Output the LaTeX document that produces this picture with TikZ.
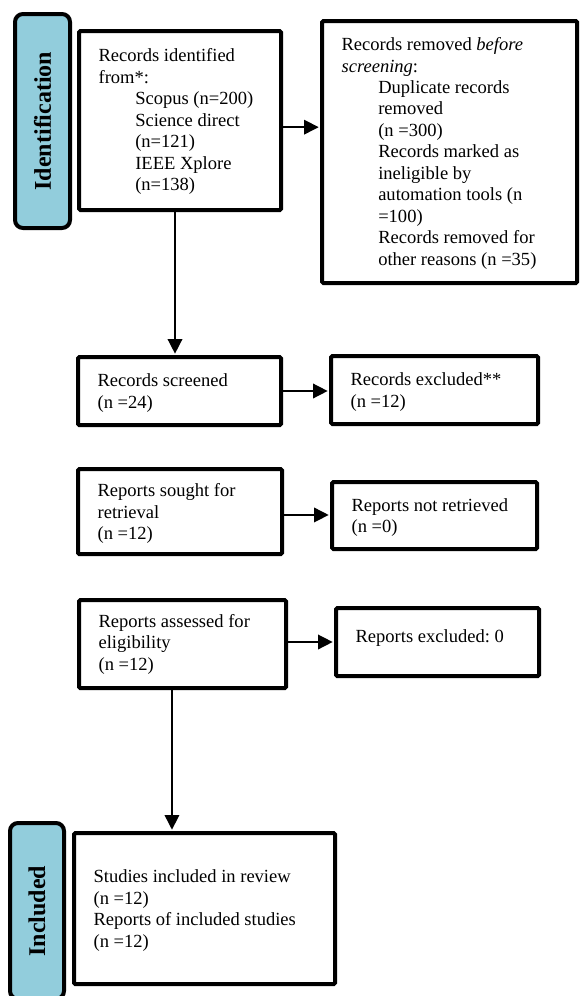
\documentclass[tikz,border=0pt]{standalone}
\usepackage{fontspec}
\setmainfont{Liberation Serif}
\usetikzlibrary{arrows.meta,calc}
\definecolor{labelblue}{RGB}{146,205,220}
\newcommand{\ind}{\hspace*{27.5pt}}
\frenchspacing
\begin{document}
\begin{tikzpicture}[x=0.75pt,y=-0.75pt,
  box/.style={draw=black,line width=3pt,rectangle,rounded corners=1pt,inner sep=0pt,fill=white},
  stage/.style={draw=black,line width=3pt,rectangle,rounded corners=6pt,fill=labelblue,inner sep=0pt},
  stagetext/.style={rotate=90,font=\fontsize{18pt}{21pt}\selectfont\bfseries,inner sep=0pt},
  txt/.style={align=left,inner sep=0pt,font=\fontsize{13.9pt}{16.1pt}\selectfont,anchor=west},
  arr/.style={line width=1.1pt,-{Triangle[length=11pt,width=11pt]},shorten >=1pt}]
\useasboundingbox (0,0) rectangle (581,996);

% stage labels
\node[stage,minimum width=41.25pt,minimum height=160.5pt] (lid) at (42.5,121) {};
\node[stagetext] (lidt) at (lid.center) {Identification};
\node[stage,minimum width=40.5pt,minimum height=132pt] (linc) at (37,911) {};
\node[stagetext] (linct) at (linc.center) {Included};

% boxes
\node[box,minimum width=151.5pt,minimum height=134.25pt] (idb) at (180,120.5) {};
\node[box,minimum width=191.25pt,minimum height=196.5pt] (rem) at (449.5,152) {};
\node[box,minimum width=152.25pt,minimum height=51pt] (scr) at (179.5,391) {};
\node[box,minimum width=155.25pt,minimum height=51pt] (exc) at (434.5,390) {};
\node[box,minimum width=153pt,minimum height=63.75pt] (sou) at (180,511.5) {};
\node[box,minimum width=153.75pt,minimum height=50.25pt] (nrt) at (434.5,515.5) {};
\node[box,minimum width=155.25pt,minimum height=66pt] (ass) at (182.5,644) {};
\node[box,minimum width=152.25pt,minimum height=51pt] (rex) at (437.5,642) {};
\node[box,minimum width=195.75pt,minimum height=113.25pt] (stu) at (204.5,908.5) {};

% texts
\node[txt] (idbt) at ([xshift=16pt,yshift=-1pt]idb.west) {Records identified\\from*:\\\ind Scopus (n=200)\\\ind Science direct\\\ind (n=121)\\\ind IEEE Xplore\\\ind (n=138)};
\node[txt] (remt) at ([xshift=16pt,yshift=-1pt]rem.west) {Records removed \textit{before}\\\textit{screening}:\\\ind Duplicate records\\\ind removed\\\ind (n =300)\\\ind Records marked as\\\ind ineligible by\\\ind automation tools (n\\\ind =100)\\\ind Records removed for\\\ind other reasons (n =35)};
\node[txt] (scrt) at ([xshift=16pt,yshift=-1.5pt]scr.west) {Records screened\\(n =24)};
\node[txt] (exct) at ([xshift=16pt,yshift=-1.5pt]exc.west) {Records excluded**\\(n =12)};
\node[txt] (sout) at ([xshift=16pt,yshift=-1.5pt]sou.west) {Reports sought for\\retrieval\\(n =12)};
\node[txt] (nrtt) at ([xshift=16pt,yshift=-1.5pt]nrt.west) {Reports not retrieved\\(n =0)};
\node[txt] (asst) at ([xshift=16pt]ass.west) {Reports assessed for\\eligibility\\(n =12)};
\node[txt,anchor=base west] (rext) at ([xshift=16pt]rex.west) {Reports excluded: 0};
\node[txt] (stut) at ([xshift=16pt,yshift=-1.5pt]stu.west) {Studies included in review\\(n =12)\\Reports of included studies\\(n =12)};

% connectors
\coordinate (a1) at ([yshift=-5pt]idb.east);
\draw[arr] (a1) -- (a1 -| rem.west);
\coordinate (v1) at ([xshift=-3.75pt]idb.south);
\draw[arr] (v1) -- (v1 |- scr.north);
\draw[arr] (scr.east) -- (scr.east -| exc.west);
\coordinate (a3) at ([yshift=-2.6pt]sou.east);
\draw[arr] (a3) -- (a3 -| nrt.west);
\coordinate (a4) at ([yshift=1.5pt]ass.east);
\draw[arr] (a4) -- (a4 -| rex.west);
\coordinate (v2) at ([xshift=-7.9pt]ass.south);
\draw[arr] (v2) -- (v2 |- stu.north);
\end{tikzpicture}
\end{document}
